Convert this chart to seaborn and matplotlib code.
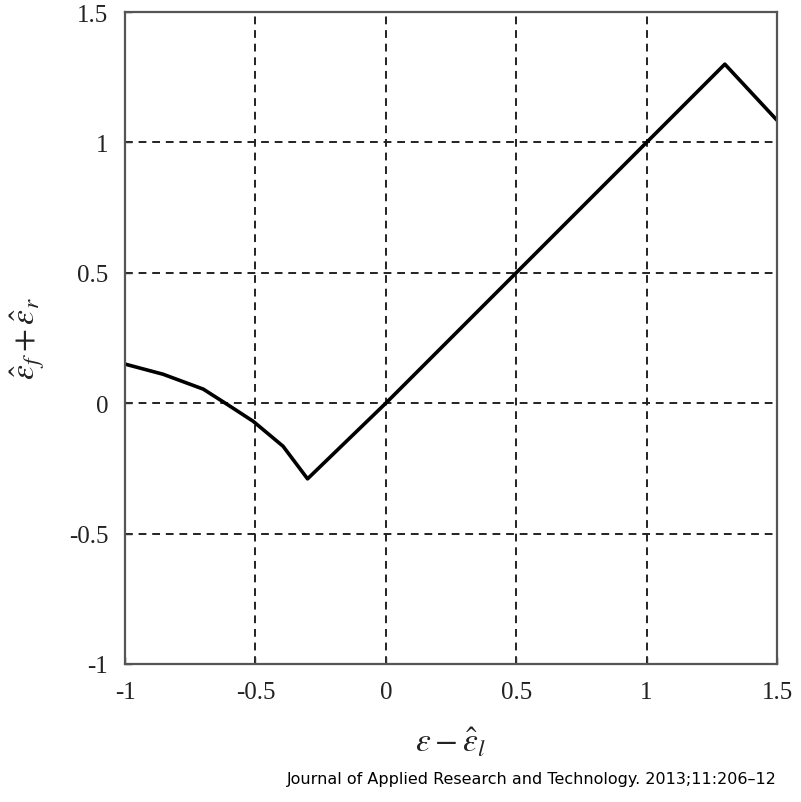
import matplotlib
matplotlib.use("Agg")
import matplotlib.pyplot as plt
import seaborn as sns
import pandas as pd

x_vals = [-1.0, -0.854, -0.70, -0.609, -0.509, -0.394, -0.30, 0.0, 0.5, 1.0, 1.30, 1.50]
y_vals = [0.15, 0.111, 0.054, -0.004, -0.069, -0.165, -0.29, 0.0, 0.5, 1.0, 1.30, 1.085]
x_ticks = [-1, -0.5, 0, 0.5, 1, 1.5]
x_tick_labels = ["-1", "-0.5", "0", "0.5", "1", "1.5"]
y_ticks = [-1, -0.5, 0, 0.5, 1, 1.5]
y_tick_labels = ["-1", "-0.5", "0", "0.5", "1", "1.5"]

sns.set_style("white")
plt.rcParams['font.family'] = ['Liberation Serif', 'DejaVu Serif']
plt.rcParams['mathtext.fontset'] = 'stix'

df = pd.DataFrame({"x": x_vals, "y": y_vals})

fig = plt.figure(figsize=(8.01, 8.03), dpi=100)
ax = fig.add_axes([125/801, 1 - 665/803, 652/801, 652/803])

sns.lineplot(data=df, x="x", y="y", ax=ax, color="black", linewidth=2.6, sort=False)

ax.set_xlim(-1, 1.5)
ax.set_ylim(-1, 1.5)
ax.set_xticks(x_ticks)
ax.set_xticklabels(x_tick_labels)
ax.set_yticks(y_ticks)
ax.set_yticklabels(y_tick_labels)
ax.tick_params(direction="in", length=5, width=1, labelsize=18, colors="#333333",
               labelcolor="#222222", pad=12, bottom=True, left=True)
ax.grid(True, linestyle=(0, (4, 3)), color="#222222", linewidth=1.4)
for s in ax.spines.values():
    s.set_color("#555555")
    s.set_linewidth(1.6)

ax.set_xlabel(r'$\varepsilon - \hat{\varepsilon}_l$', fontsize=24, color="#222222", labelpad=16)
ax.set_ylabel(r'$\hat{\varepsilon}_f + \hat{\varepsilon}_r$', fontsize=24, color="#222222", labelpad=16)

fig.text(777/801, 1 - 780/803, "Journal of Applied Research and Technology. 2013;11:206\u201312",
         ha="right", va="center", fontsize=11.5, family="DejaVu Sans", color="black")

fig.savefig("out.png", dpi=100)
